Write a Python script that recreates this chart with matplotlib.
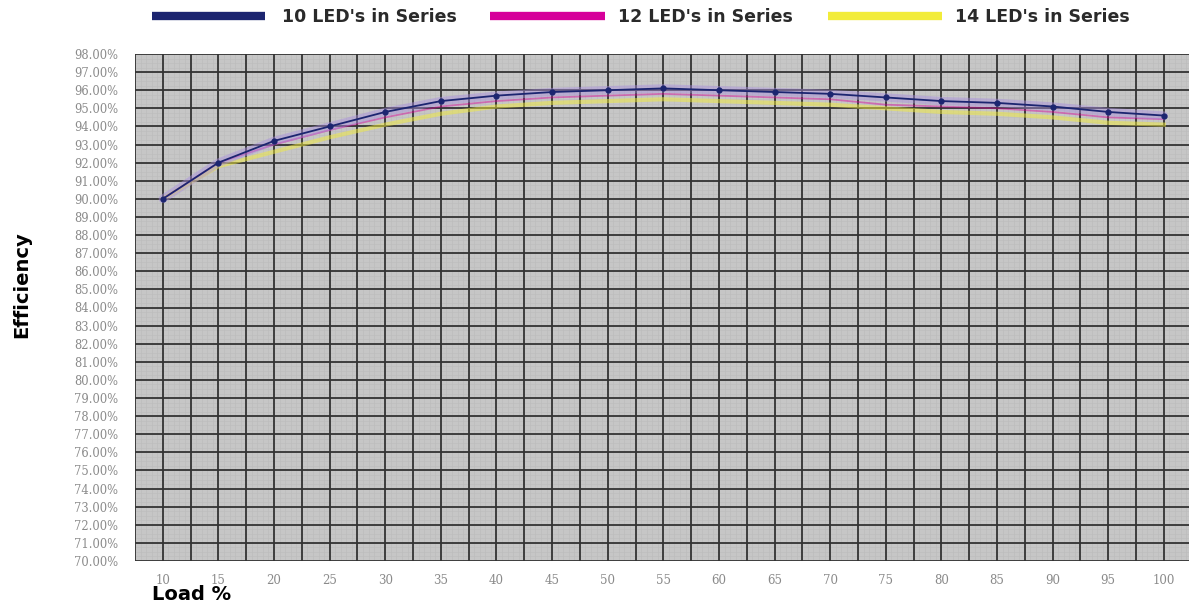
import matplotlib
matplotlib.use("Agg")
import matplotlib.pyplot as plt
from matplotlib.lines import Line2D
import numpy as np

load = [10, 15, 20, 25, 30, 35, 40, 45, 50, 55, 60, 65, 70, 75, 80, 85, 90, 95, 100]
eff_10 = [90.0, 92.0, 93.2, 94.0, 94.8, 95.4, 95.7, 95.9, 96.0, 96.1, 96.0, 95.9, 95.8, 95.6, 95.4, 95.3, 95.1, 94.8, 94.6]
eff_12 = [90.0, 92.0, 93.0, 93.8, 94.5, 95.1, 95.4, 95.6, 95.7, 95.8, 95.7, 95.6, 95.5, 95.2, 95.1, 95.0, 94.8, 94.5, 94.4]
eff_14 = [90.0, 91.8, 92.6, 93.4, 94.1, 94.7, 95.1, 95.3, 95.4, 95.5, 95.4, 95.3, 95.2, 95.0, 94.8, 94.7, 94.5, 94.2, 94.1]
series_names = ["10 LED's in Series", "12 LED's in Series", "14 LED's in Series"]
series_colors = ["#1c2570", "#d6009a", "#f2ec3a"]
y_ticks = list(range(70, 99))

W, H = 1189, 609
fig = plt.figure(figsize=(W / 100, H / 100), dpi=100)
ax = fig.add_axes([135 / W, 1 - 561 / H, (W - 135) / W, (561 - 54) / H])
ax.set_facecolor("#c6c6c6")
ax.set_xlim(7.5, 102.26)
ax.set_ylim(70, 98)

# fine texture grid
for v in np.arange(7.5, 102.5, 0.5):
    ax.axvline(v, color="#bababa", lw=0.4, zorder=0.5)
for v in np.arange(70, 98, 0.25):
    ax.axhline(v, color="#bcbcbc", lw=0.4, zorder=0.5)
# major grid
for v in np.arange(7.5, 102.5, 2.5):
    ax.axvline(v, color="#333333", lw=1.3, zorder=1)
for v in y_ticks:
    ax.axhline(v, color="#333333", lw=1.3, zorder=1)

ax.plot(load, eff_14, color=series_colors[2], lw=3, alpha=0.5, zorder=3)
ax.plot(load, eff_12, color=series_colors[1], lw=1.3, alpha=0.45, zorder=4)
ax.plot(load, eff_10, color="#a88de0", lw=6, alpha=0.45, zorder=4.5, solid_capstyle="round")
ax.plot(load, eff_10, color=series_colors[0], lw=1.3, marker="o", ms=3.5, zorder=5)

ax.set_xticks(load)
ax.set_xticklabels([str(v) for v in load], family="DejaVu Serif", fontsize=8.5, color="#8a8a8a")
ax.set_yticks(y_ticks)
ax.set_yticklabels([f"{v:.2f}%" for v in y_ticks], family="DejaVu Serif", fontsize=8.3, color="#8a8a8a")
ax.tick_params(length=0, pad=9)
ax.tick_params(axis="y", pad=12)
for s in ax.spines.values():
    s.set_visible(False)

fig.text(22 / W, 1 - 285 / H, "Efficiency", rotation=90, ha="center", va="center",
         fontsize=14, fontweight="bold", family="DejaVu Sans")
fig.text(152 / W, 1 - 595 / H, "Load %", ha="left", va="center",
         fontsize=14, fontweight="bold", family="DejaVu Sans")

# legend drawn manually across the top
leg_pos = [(152, 265, 282), (490, 605, 618), (828, 942, 955)]
for (x0, x1, xt), name, col in zip(leg_pos, series_names, series_colors):
    fig.add_artist(Line2D([x0 / W, x1 / W], [1 - 16 / H, 1 - 16 / H], color=col, lw=6,
                          transform=fig.transFigure, solid_capstyle="butt"))
    fig.text(xt / W, 1 - 17 / H, name, ha="left", va="center", fontsize=12.5,
             fontweight="bold", family="DejaVu Sans", color="#2a2a2a")

fig.savefig("out.png", dpi=100)
